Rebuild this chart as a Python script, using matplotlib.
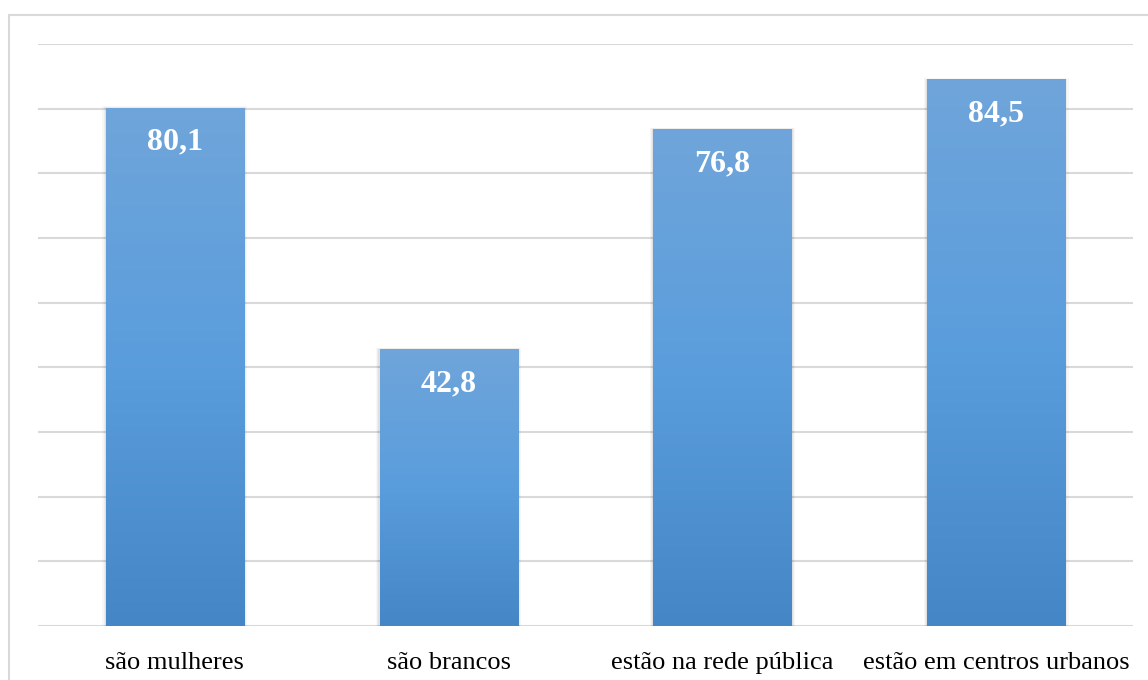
import numpy as np
import matplotlib.pyplot as plt
from matplotlib.colors import LinearSegmentedColormap
from matplotlib.patches import Rectangle

categories = ["são mulheres", "são brancos", "estão na rede pública", "estão em centros urbanos"]
values = [80.1, 42.8, 76.8, 84.5]
value_labels = ["80,1", "42,8", "76,8", "84,5"]

plt.rcParams['font.family'] = ['Liberation Serif', 'DejaVu Serif']

fig = plt.figure(figsize=(11.48, 6.80), dpi=100)
ax = fig.add_axes([38 / 1148, 1 - 626 / 680, 1095 / 1148, 582 / 680])

# light frame around the chart area (runs off the right and bottom edges)
fig.patches.append(Rectangle((9 / 1148, -0.05), 1.1, 1 - 15 / 680 + 0.05,
                             transform=fig.transFigure, fill=False,
                             edgecolor='#d9d9d9', linewidth=1.5, zorder=0))

grad = LinearSegmentedColormap.from_list('bar', ['#4486c6', '#5a9ddd', '#6fa5da'])
width = 0.505
x = np.arange(len(categories))

for xi, v, lab in zip(x, values, value_labels):
    # soft drop shadow
    for k, a in enumerate([0.05, 0.04, 0.03]):
        d = 0.004 * (k + 1)
        ax.add_patch(Rectangle((xi - width / 2 - d, -0.3), width + 2 * d, v + 0.3 + d * 20,
                               facecolor='black', alpha=a, edgecolor='none', zorder=2))
    g = np.linspace(0, 1, 256).reshape(-1, 1)
    ax.imshow(g, cmap=grad, origin='lower', aspect='auto', zorder=3,
              extent=[xi - width / 2, xi + width / 2, 0, v], interpolation='bicubic')
    ax.text(xi, v - 5.3, lab, ha='center', va='center', color='white',
            fontsize=23, fontweight='bold', zorder=4)

ax.set_xlim(-0.5, len(categories) - 0.5)
ax.set_ylim(0, 90)
ax.set_yticks(np.arange(0, 91, 10))
ax.yaxis.grid(True, color='#d9d9d9', linewidth=1.5)
ax.set_axisbelow(True)
ax.tick_params(axis='y', left=False, labelleft=False)
ax.tick_params(axis='x', length=0, pad=19, labelsize=19)
ax.set_xticks(x)
ax.set_xticklabels(categories)
for s in ax.spines.values():
    s.set_visible(False)

fig.savefig('out.png', dpi=100)
